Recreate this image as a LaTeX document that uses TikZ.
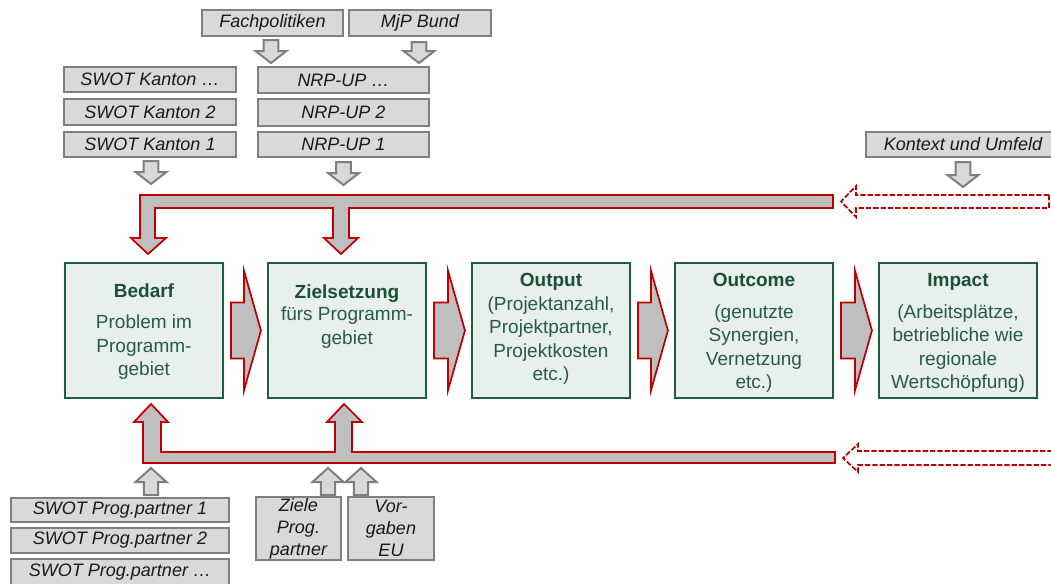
\documentclass[tikz,border=0pt]{standalone}
\usepackage{fontspec}
\setmainfont{Liberation Sans}
\usetikzlibrary{calc}
\definecolor{gborder}{HTML}{1E5E3A}
\definecolor{gfill}{HTML}{E7F0EC}
\definecolor{gtitle}{HTML}{1D4F36}
\definecolor{gbody}{HTML}{2A5A44}
\definecolor{redline}{HTML}{C00000}
\definecolor{barfill}{HTML}{BFBFBF}
\definecolor{boxfill}{HTML}{D9D9D9}
\definecolor{boxline}{HTML}{7F7F7F}
\newcommand{\pxnode}[7]{\node[#1, minimum width={0.75pt*(#5-#3)}, minimum height={0.75pt*(#6-#4)}] (#2) at ({(#3+#5)/2},{(#4+#6)/2}) {#7};}
\newcommand{\mydown}[2]{\draw[smallarr] let \p1=(#1), \p2=(#2) in (\x1-5.6pt,\y1) -- (\x1+5.6pt,\y1) -- (\x1+5.6pt,\y2+9pt) -- (\x1+11.6pt,\y2+9pt) -- (\x1,\y2) -- (\x1-11.6pt,\y2+9pt) -- (\x1-5.6pt,\y2+9pt) -- cycle;}
\newcommand{\myup}[2]{\draw[smallarr] let \p1=(#1), \p2=(#2) in (\x1-5.3pt,\y1) -- (\x1+5.3pt,\y1) -- (\x1+5.3pt,\y2-10.5pt) -- (\x1+11.6pt,\y2-10.5pt) -- (\x1,\y2) -- (\x1-11.6pt,\y2-10.5pt) -- (\x1-5.3pt,\y2-10.5pt) -- cycle;}
\newcommand{\bigarr}[2]{\draw[redarr] let \p1=($(#1.east)+(7,0)$), \p2=($(#2.west)+(-6,0)$) in (\x1,\y1+21pt) -- (\x2-12.75pt,\y1+21pt) -- (\x2-12.75pt,\y1+45pt) -- (\x2,\y1) -- (\x2-12.75pt,\y1-45pt) -- (\x2-12.75pt,\y1-21pt) -- (\x1,\y1-21pt) -- cycle;}
\tikzset{
  graybox/.style={draw=boxline, fill=boxfill, line width=1.5pt, inner sep=0pt, align=center,
    font=\fontsize{13.5pt}{16.5pt}\selectfont\itshape, text=black!90},
  gbox/.style={draw=gborder, fill=gfill, line width=1.6pt},
  gtext/.style={anchor=north, inner sep=0pt, align=center, text=gbody,
    font=\fontsize{14.25pt}{17.6pt}\selectfont},
  smallarr/.style={draw=boxline, fill=boxfill, line width=1.5pt, line join=miter},
  redarr/.style={draw=redline, fill=barfill, line width=1.3pt, line join=miter},
  dasharr/.style={draw=redline, fill=white, line width=1.3pt, dash pattern=on 4pt off 1.5pt},
}
\begin{document}
\begin{tikzpicture}[x=0.75pt, y=-0.75pt]
\useasboundingbox (0,0) rectangle (1051,583);

% gray input boxes
\pxnode{graybox}{fach}{202}{10}{343}{36}{Fachpolitiken}
\pxnode{graybox}{mjp}{349}{10}{491}{36}{MjP Bund}
\pxnode{graybox}{sk3}{64}{67}{236}{92}{SWOT Kanton …}
\pxnode{graybox}{sk2}{64}{99}{236}{125}{SWOT Kanton 2}
\pxnode{graybox}{sk1}{64}{132}{236}{157}{SWOT Kanton 1}
\pxnode{graybox}{nrp3}{258}{67}{429}{93}{NRP-UP …}
\pxnode{graybox}{nrp2}{258}{99}{429}{126}{NRP-UP 2}
\pxnode{graybox}{nrp1}{258}{132}{429}{157}{NRP-UP 1}
\pxnode{graybox}{kont}{866}{132}{1060}{157}{Kontext und Umfeld}
\pxnode{graybox}{sp1}{11}{498}{229}{522}{SWOT Prog.partner 1}
\pxnode{graybox}{sp2}{11}{528}{229}{553}{SWOT Prog.partner 2}
\pxnode{graybox}{sp3}{11}{559}{229}{585}{SWOT Prog.partner …}
\pxnode{graybox}{ziele}{256}{497}{341}{560}{Ziele\\Prog.\\partner}
\pxnode{graybox}{vorg}{348}{497}{434}{560}{Vor-\\gaben\\EU}

% green boxes
\pxnode{gbox}{bedarf}{65}{263}{223}{398}{}
\pxnode{gbox}{ziel}{268}{263}{426}{398}{}
\pxnode{gbox}{output}{472}{263}{630}{398}{}
\pxnode{gbox}{outcome}{675}{263}{833}{398}{}
\pxnode{gbox}{impact}{879}{263}{1037}{398}{}

\node[gtext] (bedarf-t) at ($(bedarf.north)+(0,22)$) {\textcolor{gtitle}{\textbf{Bedarf}}\\[5.6pt]Problem im\\Programm-\\gebiet};
\node[gtext] (ziel-t) at ($(ziel.north)+(0,23)$) {\textcolor{gtitle}{\textbf{Zielsetzung}}\\[-1.1pt]fürs Programm-\\gebiet};
\node[gtext] (output-t) at ($(output.north)+(0,11)$) {\textcolor{gtitle}{\textbf{Output}}\\[0.4pt](Projektanzahl,\\Projektpartner,\\Projektkosten\\etc.)};
\node[gtext] (outcome-t) at ($(outcome.north)+(0,11)$) {\textcolor{gtitle}{\textbf{Outcome}}\\[6.4pt](genutzte\\Synergien,\\Vernetzung\\etc.)};
\node[gtext] (impact-t) at ($(impact.north)+(0,11)$) {\textcolor{gtitle}{\textbf{Impact}}\\[6.4pt](Arbeitsplätze,\\betriebliche wie\\regionale\\Wertschöpfung)};

% big arrows between green boxes
\bigarr{bedarf}{ziel}
\bigarr{ziel}{output}
\bigarr{output}{outcome}
\bigarr{outcome}{impact}

% top feedback bar
\coordinate (topbar) at (0,195);
\draw[redarr] (140,195) -- (833,195) -- (833,208) -- (349,208) -- (349,238) -- (358,238) -- (341,254) -- (324,238) -- (333,238) -- (333,208) -- (155,208) -- (155,238) -- (166,238) -- (148,254) -- (131,238) -- (140,238) -- cycle;
% bottom feedback bar
\draw[redarr] (143,463) -- (835,463) -- (835,452) -- (352,452) -- (352,422) -- (362,422) -- (344,404) -- (327,422) -- (335,422) -- (335,452) -- (161,452) -- (161,422) -- (168,422) -- (151,404) -- (134,422) -- (143,422) -- cycle;

% dashed arrows
\draw[dasharr] (1049,195) -- (856,195) -- (856,186) -- (841,201.5) -- (856,217) -- (856,208) -- (1049,208) -- cycle;
\draw[dasharr] (1060,451) -- (858,451) -- (858,444) -- (843,458) -- (858,472) -- (858,465) -- (1060,465);

% small gray arrows
\mydown{$(fach.south)+(-1.5,3)$}{$(fach.south |- nrp3.north)+(-1.5,-3)$}
\mydown{$(mjp.south)+(-1,5)$}{$(mjp.south |- nrp3.north)+(-1,-3)$}
\mydown{$(sk1.south)+(1,3)$}{$(sk1.south |- topbar)+(1,-11)$}
\mydown{$(nrp1.south)+(0,4)$}{$(nrp1.south |- topbar)+(0,-10)$}
\mydown{$(kont.south)+(0,4)$}{$(kont.south)+(0,29)$}
\myup{$(sp1.north)+(31,-2)$}{$(sp1.north)+(31,-29)$}
\myup{$(ziele.north)+(29.5,-1)$}{$(ziele.north)+(29.5,-28)$}
\myup{$(vorg.north)+(-30,-1)$}{$(vorg.north)+(-30,-28)$}
\end{tikzpicture}
\end{document}
